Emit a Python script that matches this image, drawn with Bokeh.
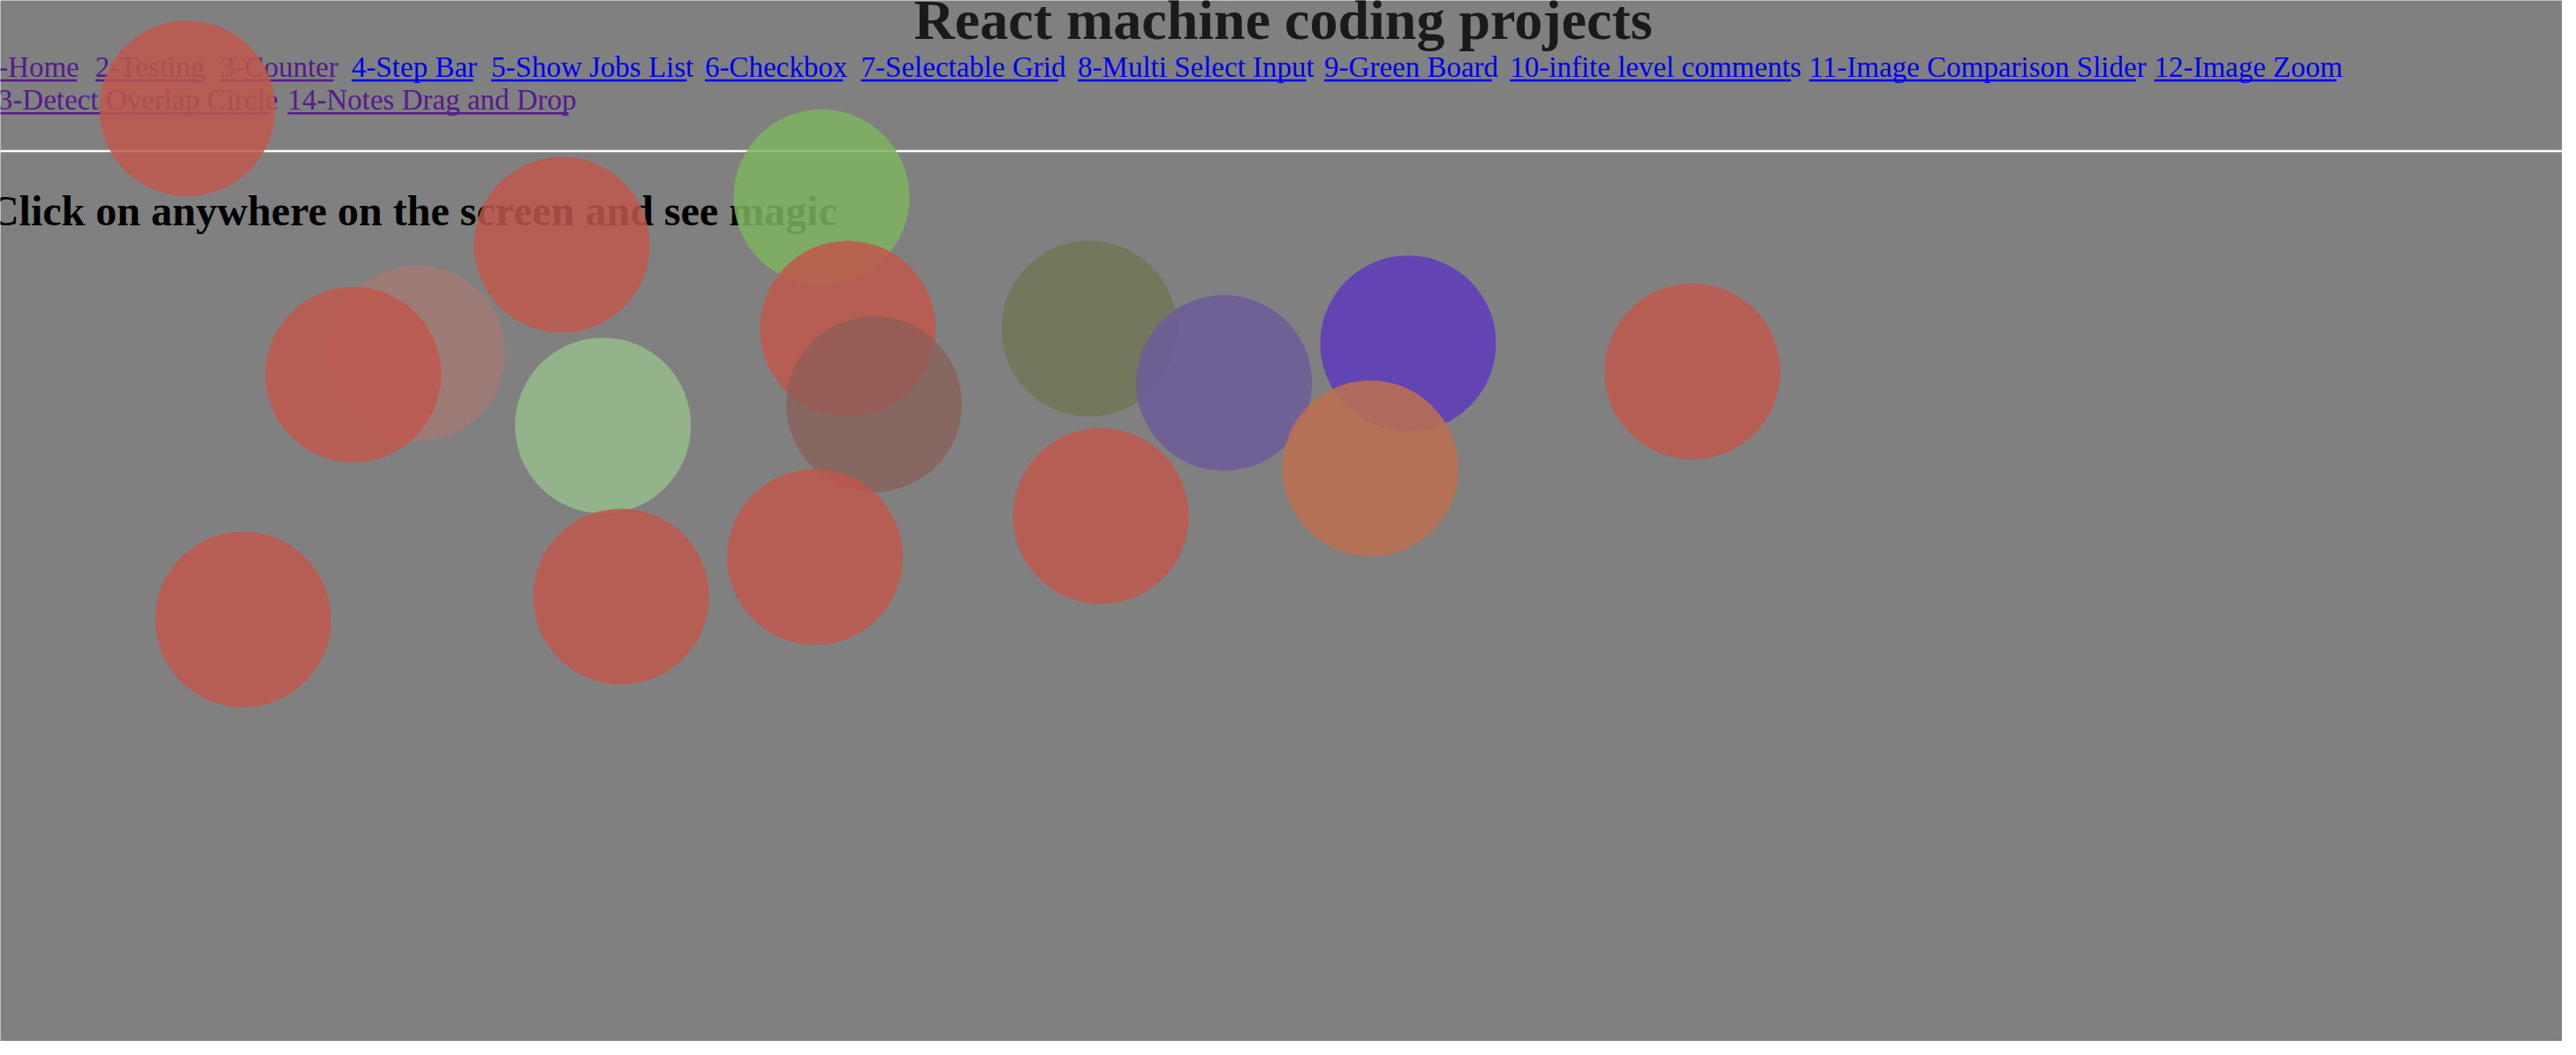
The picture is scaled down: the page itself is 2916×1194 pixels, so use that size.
from bokeh.plotting import figure
from bokeh.models import Range1d
from bokeh.core.properties import value
from bokeh.embed import file_html
from bokeh.resources import INLINE

# layout in reference display units (1568 x 642)
title = "React machine coding projects"
links1 = ["-Home", "2-Testing", "3-Counter", "4-Step Bar", "5-Show Jobs List", "6-Checkbox",
          "7-Selectable Grid", "8-Multi Select Input", "9-Green Board", "10-infite level comments",
          "11-Image Comparison Slider", "12-Image Zoom"]
links1_x0 = [3, 62, 138, 218, 303, 433, 528, 660, 810, 923, 1105, 1315]
links1_x1 = [51, 126, 207, 292, 422, 517, 648, 799, 912, 1094, 1304, 1426]
links1_visited = [1, 1, 1, 0, 0, 0, 0, 0, 0, 0, 0, 0]
links2 = ["13-Detect Overlap Circle", "14-Notes Drag and Drop"]
links2_x0 = [-6, 179]
links2_x1 = [168, 350]
links2_visited = [1, 1]
subtitle = "Click on anywhere on the screen and see magic"

circle_x = [118, 346, 504, 258, 219, 371, 520, 536, 667, 749, 861, 838, 1034, 674, 500, 382, 152]
circle_y = [70, 153, 124, 219, 232, 263, 204, 250, 204, 237, 213, 289, 230, 318, 343, 367, 381]
circle_color = ["#c0574c", "#c0574c", "#7fb45f", "#b07870", "#c0574c", "#95b98c", "#c0574c", "#8a5c55",
                "#737658", "#6c5a9a", "#5e3db8", "#c0704f", "#c0574c", "#c0574c", "#c0574c", "#c0574c", "#c0574c"]
circle_alpha = [0.85, 0.85, 0.85, 0.6, 0.85, 0.9, 0.85, 0.7, 0.9, 0.85, 0.9, 0.85, 0.85, 0.85, 0.85, 0.85, 0.85]

W, H = 2900, 1178
S = 1.86
off = 8 / S
p = figure(width=W, height=H, output_backend="svg", toolbar_location=None,
           x_range=Range1d(off, off + W / S), y_range=Range1d(off + H / S, off),
           min_border=0, background_fill_color="#808080", border_fill_color="#808080")
p.axis.visible = False
p.grid.visible = False
p.outline_line_color = None

serif = value("Liberation Serif")
p.text(x=[785], y=[16], text=[title], text_font=serif, text_font_size=f"{int(34.5*S)}px",
       text_font_style="bold", text_align="center", text_baseline="middle", text_color="#1a1a1a")

def links(names, x0, x1, vis, y):
    cols = ["#551a8b" if v else "#0000ee" for v in vis]
    p.text(x=x0, y=[y] * len(names), text=names, text_font=serif, text_font_size=f"{int(17.8*S)}px",
           text_baseline="middle", text_color=cols)
    p.segment(x0=x0, x1=x1, y0=[y + 8] * len(names), y1=[y + 8] * len(names), line_color=cols, line_width=2.5)

links(links1, links1_x0, links1_x1, links1_visited, 45)
links(links2, links2_x0, links2_x1, links2_visited, 65)

p.segment(x0=[-10], x1=[1600], y0=[96], y1=[96], line_color="white", line_width=2.5)
p.text(x=[-3], y=[132], text=[subtitle], text_font=serif, text_font_size=f"{int(26*S)}px",
       text_font_style="bold", text_baseline="middle", text_color="black")

p.ellipse(x=circle_x, y=circle_y, width=107, height=107, fill_color=circle_color,
          fill_alpha=circle_alpha, line_color=None)

open("out.html", "w").write(file_html(p, INLINE))
